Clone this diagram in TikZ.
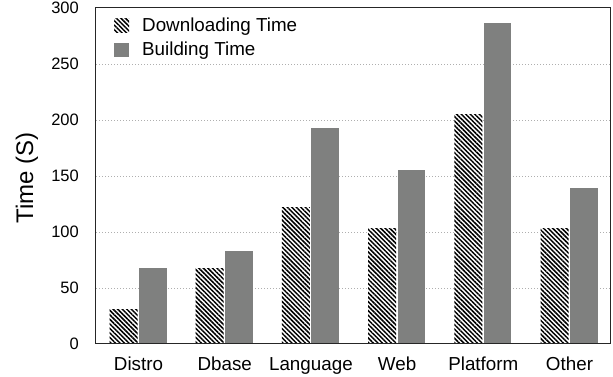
\documentclass[tikz,border=0pt]{standalone}
\usepackage{fontspec}
\setmainfont{Liberation Sans}
\usetikzlibrary{positioning,patterns.meta}
\definecolor{buildC}{RGB}{127,128,127}
\definecolor{gridC}{RGB}{175,175,175}
\newcommand{\fsz}[1]{\fontsize{#1}{#1}\selectfont}
\tikzset{
  axisframe/.style={draw=black!85, line width=1pt},
  gridline/.style={draw=gridC, line width=0.8pt, dash pattern=on 1pt off 2pt},
  dlbar/.style={fill=white, postaction={pattern={Lines[angle=-45, distance=3.2pt, line width=1.5pt]}}},
  bdbar/.style={fill=buildC},
  ticklbl/.style={anchor=east, inner sep=0pt, font=\fsz{16.5}},
  catlbl/.style={anchor=base, inner sep=0pt, font=\fsz{18.8}},
  legtxt/.style={anchor=base west, inner sep=0pt, font=\fsz{18.8}},
  ylbl/.style={rotate=90, anchor=base, inner sep=0pt, font=\fsz{24}},
  swatch/.style={inner sep=0pt, minimum width=15pt, minimum height=14pt},
}

\begin{document}
\begin{tikzpicture}[x=1pt, y=1pt]
\useasboundingbox (0,0) rectangle (613,377);

% dotted grid lines every 50 s
\foreach \v in {50,100,...,250}
  \draw[gridline] (96,33+1.12*\v) -- (610,33+1.12*\v);

% tick labels
\foreach \v in {0,50,...,300}
  \node[ticklbl] (tk\v) at (79,33+1.12*\v) {\v};

% bars: downloading / building time per category
\foreach \name/\dl/\bd [count=\i from 0] in
  {Distro/31/68, Dbase/67/83, Language/122/193, Web/103/155, Platform/205/287, Other/103/139}{
  \pgfmathsetmacro{\c}{138.5+86.2*\i}
  \fill[dlbar] (\c-29,33) rectangle (\c-1,33+1.12*\dl);
  \fill[bdbar] (\c+0.5,33) rectangle (\c+28,33+1.12*\bd);
  \node[catlbl] (cat\i) at (\c,6) {\name};
}

\draw[axisframe] (95.5,33) rectangle (610,369);

\node[ylbl] (ytitle) at (33,199) {Time (S)};

% legend
\node[swatch, dlbar] (legdl) at (121.5,351) {};
\node[swatch, bdbar] (legbd) at (121.5,327) {};
\node[legtxt] (dltxt) at (142,345) {Downloading Time};
\node[legtxt] (bdtxt) at (142,321) {Building Time};
\end{tikzpicture}
\end{document}
